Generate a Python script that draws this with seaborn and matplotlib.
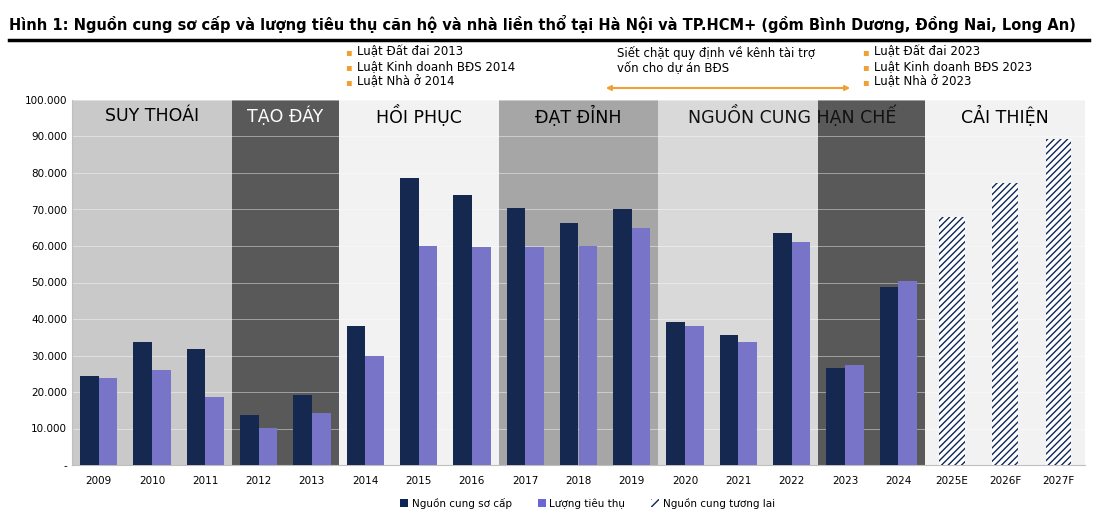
import matplotlib
matplotlib.use("Agg")
import matplotlib.pyplot as plt
import seaborn as sns
import pandas as pd
from matplotlib.patches import Patch, FancyArrowPatch

years = ["2009", "2010", "2011", "2012", "2013", "2014", "2015", "2016", "2017", "2018",
         "2019", "2020", "2021", "2022", "2023", "2024", "2025E", "2026F", "2027F"]
supply = [24500, 33800, 31700, 13700, 19300, 38200, 78600, 74100, 70300, 66200,
          70100, 39300, 35500, 63500, 26500, 48900, 67900, 77300, 89200]
sales = [23800, 26100, 18500, 10200, 14300, 30000, 60100, 59800, 59700, 60000,
         64900, 38200, 33700, 61000, 27300, 50300, None, None, None]
phases = [("SUY THOÁI", 0, 3, "#c9c9c9", "black"),
          ("TẠO ĐÁY", 3, 5, "#595959", "white"),
          ("HỒI PHỤC", 5, 8, "#f2f2f2", "black"),
          ("ĐẠT ĐỈNH", 8, 11, "#a6a6a6", "black"),
          ("", 11, 14, "#d9d9d9", "black"),
          ("", 14, 16, "#595959", "white"),
          ("CẢI THIỆN", 16, 19, "#f2f2f2", "black")]
n_future = 3

navy, purple = "#0b2559", "#6b66d6"
df = pd.DataFrame({"year": years * 2,
                   "value": supply + sales,
                   "series": ["Nguồn cung sơ cấp"] * len(years) + ["Lượng tiêu thụ"] * len(years)})

fig = plt.figure(figsize=(10.98, 5.24), dpi=100)
ax = fig.add_axes([72 / 1098, 59 / 524, 1013 / 1098, 365 / 524])

for name, a, b, col, tcol in phases:
    ax.axvspan(a - 0.5, b - 0.5, color=col, zorder=0, lw=0)
    if name:
        ax.text((a + b - 1) / 2, 95500, name, ha="center", va="center", fontsize=12.5, color=tcol)
ax.text(13.0, 95500, "NGUỒN CUNG HẠN CHẾ", ha="center", va="center", fontsize=12.5, color="#111111")

sns.barplot(data=df, x="year", y="value", hue="series", palette=[navy, purple],
            width=0.7, ax=ax, legend=False, zorder=3)
nb = len(years)
for i, p in enumerate(ax.containers[0].patches):
    if i >= nb - n_future:
        p.set_facecolor("white")
        p.set_edgecolor(navy)
        p.set_hatch("/////")
        p.set_linewidth(0)
        p.set_width(0.48)
        p.set_x(i - 0.24)

ax.set_xlim(-0.5, len(years) - 0.5)
ax.set_ylim(0, 100000)
ax.set_yticks(range(0, 100001, 10000))
ax.set_yticklabels(["-"] + [f"{v:,}".replace(",", ".") for v in range(10000, 100001, 10000)], fontsize=7.5)
ax.tick_params(axis="x", labelsize=7.5, length=0, pad=8)
ax.tick_params(axis="y", length=0)
ax.yaxis.grid(True, color="white", lw=0.6, alpha=0.5, zorder=1)
ax.set_xlabel("")
ax.set_ylabel("")
for s in ["top", "right"]:
    ax.spines[s].set_visible(False)
ax.spines["left"].set_color("#bfbfbf")
ax.spines["bottom"].set_color("#bfbfbf")

fig.text(0.008, 0.955, "Hình 1: Nguồn cung sơ cấp và lượng tiêu thụ căn hộ và nhà liền thổ tại Hà Nội và TP.HCM+ (gồm Bình Dương, Đồng Nai, Long An)",
         fontsize=10.5, fontweight="bold", ha="left", va="center")
fig.add_artist(plt.Line2D([0.008, 0.992], [0.923, 0.923], color="black", lw=2.5))

orange = "#f0a030"
for x0, lines in [(345, ["Luật Đất đai 2013", "Luật Kinh doanh BĐS 2014", "Luật Nhà ở 2014"]),
                  (862, ["Luật Đất đai 2023", "Luật Kinh doanh BĐS 2023", "Luật Nhà ở 2023"])]:
    for k, t in enumerate(lines):
        y = 1 - (52 + 15 * k) / 524
        fig.text(x0 / 1098, y, "▪", color=orange, fontsize=7, va="center")
        fig.text((x0 + 12) / 1098, y, t, fontsize=8.5, va="center")
fig.text(617 / 1098, 1 - 53 / 524, "Siết chặt quy định về kênh tài trợ", fontsize=8.5, va="center")
fig.text(617 / 1098, 1 - 68 / 524, "vốn cho dự án BĐS", fontsize=8.5, va="center")
fig.add_artist(FancyArrowPatch((603 / 1098, 1 - 88 / 524), (853 / 1098, 1 - 88 / 524),
               arrowstyle="<|-|>", mutation_scale=7, color=orange, lw=1.5, transform=fig.transFigure))

handles = [Patch(facecolor=navy, label="Nguồn cung sơ cấp"),
           Patch(facecolor=purple, label="Lượng tiêu thụ"),
           Patch(facecolor="white", edgecolor=navy, hatch="////", lw=0, label="Nguồn cung tương lai")]
fig.legend(handles=handles, loc="center", bbox_to_anchor=(0.535, 0.04), ncol=3, frameon=False,
           fontsize=7.5, handlelength=0.8, handleheight=0.8, columnspacing=2.5, handletextpad=0.3)

fig.savefig("out.png", dpi=100)
